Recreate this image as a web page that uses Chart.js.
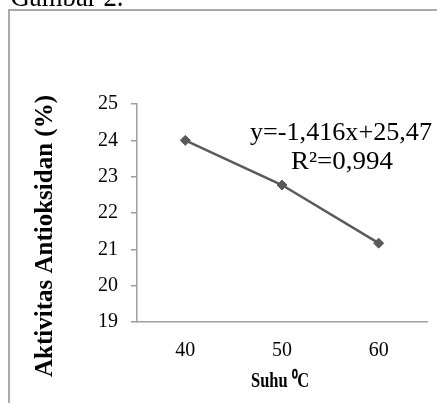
<!DOCTYPE html>
<html>
<head>
<meta charset="utf-8">
<script src="https://cdn.jsdelivr.net/npm/chart.js@4"></script>
<style>
html, body { margin: 0; padding: 0; background: #fff; }
#wrap { position: relative; width: 437px; height: 403px; overflow: hidden; }
#frame { position: absolute; left: 8px; top: 9px; width: 460px; height: 420px; border-left: 2px solid #aaa; border-top: 2px solid #aaa; }
#chart { position: absolute; left: 0; top: 0; }
</style>
</head>
<body>
<div id="wrap">
  <div id="frame"></div>
  <canvas id="chart" width="437" height="403"></canvas>
</div>
<script>
// data
const suhu = ['40', '50', '60'];
const aktivitas = [24.0, 22.77, 21.17];
const yTicks = [19, 20, 21, 22, 23, 24, 25];
const yTitle = 'Aktivitas Antioksidan (%)';
const xTitle = 'Suhu \u2070C';
const eqLines = ['y=-1,416x+25,47', 'R\u00B2=0,994'];
const caption = 'Gambar 2.';

const serif = '"Liberation Serif", "Times New Roman", serif';

// draw centred text squeezed/stretched to a given width
function fitText(ctx, text, font, cx, cy, width, rot) {
    ctx.save();
    ctx.font = font;
    const w = ctx.measureText(text).width;
    ctx.translate(cx, cy);
    if (rot) ctx.rotate(rot);
    ctx.scale(width / w, 1);
    ctx.fillText(text, 0, 0);
    ctx.restore();
}

// titles, caption and the trendline equation
const textPlugin = {
    id: 'texts',
    afterDraw(chart) {
        const ctx = chart.ctx;
        ctx.save();
        ctx.fillStyle = '#000';
        ctx.textAlign = 'center';
        ctx.textBaseline = 'alphabetic';
        fitText(ctx, yTitle, 'bold 25px ' + serif, 52, 236, 282, -Math.PI / 2);
        fitText(ctx, xTitle, 'bold 21px ' + serif, 280, 387, 58);
        fitText(ctx, eqLines[0], '25px ' + serif, 341, 140, 182);
        fitText(ctx, eqLines[1], '25px ' + serif, 342, 169, 102);
        fitText(ctx, caption, '30px ' + serif, 67, 6, 113);
        ctx.restore();
    }
};

const ctx = document.getElementById('chart').getContext('2d');
const chart = new Chart(ctx, {
    type: 'line',
    data: {
        labels: suhu,
        datasets: [{
            data: aktivitas,
            borderColor: '#5a5a5a',
            backgroundColor: '#5a5a5a',
            borderWidth: 2.5,
            pointStyle: 'rectRot',
            pointRadius: 5,
            pointBorderWidth: 1,
            tension: 0
        }]
    },
    options: {
        responsive: false,
        animation: false,
        events: [],
        layout: { padding: { left: 0, top: 104, right: 10, bottom: 0 } },
        plugins: {
            legend: { display: false },
            tooltip: { enabled: false }
        },
        scales: {
            x: {
                offset: true,
                afterFit: (s) => { s.height = 81; },
                grid: { display: false, drawTicks: false },
                border: { display: true, color: '#a0a0a0', width: 1.5 },
                ticks: { color: '#000', font: { family: serif, size: 20 }, padding: 17 }
            },
            y: {
                min: 19,
                max: 25,
                afterFit: (s) => { s.width = 137; },
                afterBuildTicks: (s) => { s.ticks = yTicks.map(v => ({ value: v })); },
                grid: { drawOnChartArea: false, drawTicks: true, tickLength: 6, color: '#a0a0a0', lineWidth: 1.5 },
                border: { display: true, color: '#a0a0a0', width: 1.5 },
                ticks: { color: '#000', font: { family: serif, size: 20 }, padding: 13 }
            }
        }
    },
    plugins: [textPlugin]
});
</script>
</body>
</html>
